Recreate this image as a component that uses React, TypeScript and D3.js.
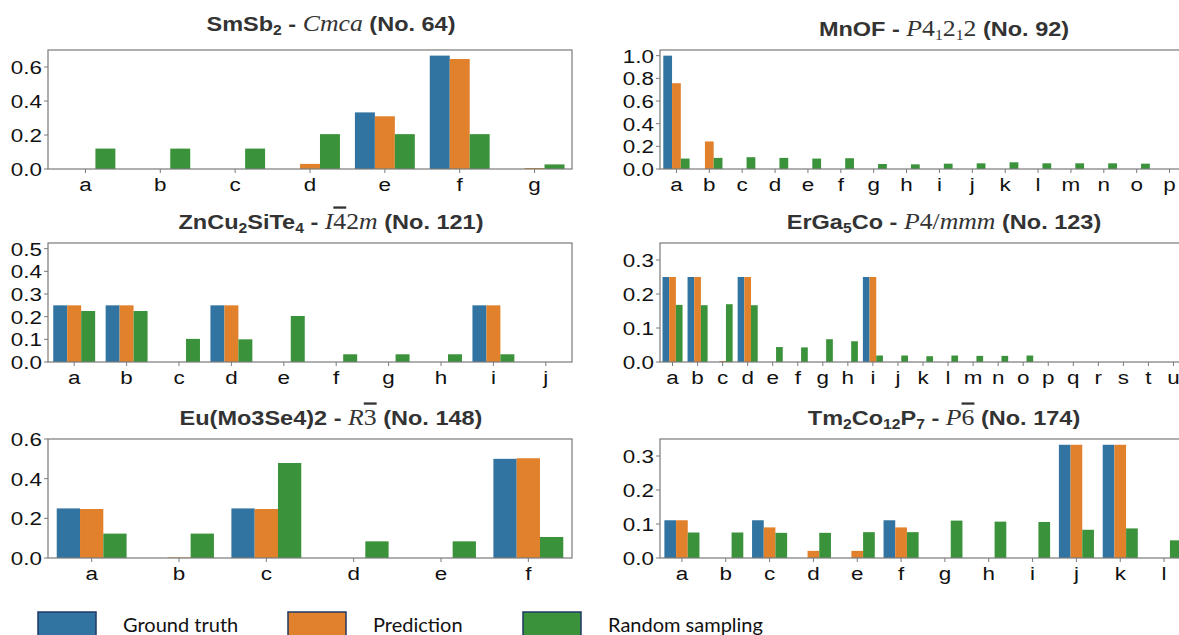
import React from 'react';
import * as d3 from 'd3';

// --- data ---
const smsbCats = ['a', 'b', 'c', 'd', 'e', 'f', 'g'];
const smsbTruth = [0, 0, 0, 0, 0.333, 0.667, 0];
const smsbPred = [0, 0, 0, 0.03, 0.31, 0.647, 0.006];
const smsbRandom = [0.12, 0.12, 0.12, 0.205, 0.205, 0.205, 0.027];
const smsbTicks = [0, 0.2, 0.4, 0.6];

const mnofCats = ['a', 'b', 'c', 'd', 'e', 'f', 'g', 'h', 'i', 'j', 'k', 'l', 'm', 'n', 'o', 'p'];
const mnofTruth = [1, 0, 0, 0, 0, 0, 0, 0, 0, 0, 0, 0, 0, 0, 0, 0];
const mnofPred = [0.757, 0.243, 0, 0, 0, 0, 0, 0, 0, 0, 0, 0, 0, 0, 0, 0];
const mnofRandom = [0.092, 0.098, 0.104, 0.098, 0.092, 0.095, 0.044, 0.041, 0.047, 0.05, 0.059, 0.05, 0.05, 0.05, 0.047, 0];
const mnofTicks = [0, 0.2, 0.4, 0.6, 0.8, 1.0];

const zncuCats = ['a', 'b', 'c', 'd', 'e', 'f', 'g', 'h', 'i', 'j'];
const zncuTruth = [0.25, 0.25, 0, 0.25, 0, 0, 0, 0, 0.25, 0];
const zncuPred = [0.25, 0.25, 0, 0.25, 0, 0, 0, 0, 0.25, 0];
const zncuRandom = [0.225, 0.225, 0.102, 0.1, 0.203, 0.034, 0.034, 0.034, 0.034, 0];
const zncuTicks = [0, 0.1, 0.2, 0.3, 0.4, 0.5];

const ergaCats = ['a', 'b', 'c', 'd', 'e', 'f', 'g', 'h', 'i', 'j', 'k', 'l', 'm', 'n', 'o', 'p', 'q', 'r', 's', 't', 'u'];
const ergaTruth = [0.25, 0.25, 0, 0.25, 0, 0, 0, 0, 0.25, 0, 0, 0, 0, 0, 0, 0, 0, 0, 0, 0, 0];
const ergaPred = [0.25, 0.25, 0.003, 0.25, 0, 0, 0, 0, 0.25, 0, 0, 0, 0, 0, 0, 0, 0, 0, 0, 0, 0];
const ergaRandom = [0.168, 0.167, 0.17, 0.167, 0.044, 0.043, 0.067, 0.061, 0.019, 0.019, 0.017, 0.019, 0.018, 0.018, 0.019, 0, 0, 0, 0, 0, 0];
const ergaTicks = [0, 0.1, 0.2, 0.3];

const euCats = ['a', 'b', 'c', 'd', 'e', 'f'];
const euTruth = [0.25, 0, 0.25, 0, 0, 0.5];
const euPred = [0.247, 0.003, 0.247, 0, 0, 0.503];
const euRandom = [0.123, 0.123, 0.479, 0.084, 0.084, 0.106];
const euTicks = [0, 0.2, 0.4, 0.6];

const tmCats = ['a', 'b', 'c', 'd', 'e', 'f', 'g', 'h', 'i', 'j', 'k', 'l'];
const tmTruth = [0.111, 0, 0.111, 0, 0, 0.111, 0, 0, 0, 0.333, 0.333, 0];
const tmPred = [0.111, 0, 0.09, 0.021, 0.021, 0.09, 0, 0, 0, 0.333, 0.333, 0];
const tmRandom = [0.075, 0.075, 0.074, 0.074, 0.076, 0.076, 0.11, 0.107, 0.106, 0.083, 0.087, 0.052];
const tmTicks = [0, 0.1, 0.2, 0.3];

const legendLabels = ['Ground truth', 'Prediction', 'Random sampling'];
const colors = ['#3274a1', '#e1812c', '#3a923a'];

const SX = 1.18; // the reference is stretched sideways a little
const SANS = '"Liberation Sans", Arial, sans-serif';
const MATH = '"Liberation Serif", "DejaVu Serif", serif';

// title pieces: b = bold sans, bs = bold subscript, mi = math italic, m = math upright, ms = math sub, mo = math overline
const Title = ({ cx, y, segs }) => {
  let prevSub = false;
  return (
    <text transform={`translate(${cx},${y}) scale(1.12,1)`} textAnchor="middle" fill="#333">
      {segs.map(([k, t], i) => {
        const sub = k === 'bs' || k === 'ms';
        const dy = (sub ? 4 : 0) - (prevSub ? 4 : 0);
        prevSub = sub;
        const math = k[0] === 'm';
        return (
          <tspan
            key={i}
            dy={dy}
            fontFamily={math ? MATH : SANS}
            fontWeight={math ? 'normal' : 'bold'}
            fontStyle={k === 'mi' ? 'italic' : 'normal'}
            fontSize={sub ? 14 : math ? 23 : 21}
            style={k === 'mo' ? { textDecoration: 'overline' } : undefined}
          >
            {t}
          </tspan>
        );
      })}
    </text>
  );
};

const Panel = ({ cats, truth, pred, rand, ticks, ymax, x0, x1, y0, y1, title, ty }) => {
  const x = d3.scaleBand().domain(cats).range([x0, x1]).padding(0);
  const y = d3.scaleLinear().domain([0, ymax]).range([y1, y0]);
  const bw = (x.bandwidth() * 0.8) / 3;
  const series = [truth, pred, rand];
  const fmt = d3.format('.1f');
  return (
    <g>
      <Title cx={(x0 + x1) / 2 + 21} y={ty ?? y0 - 14} segs={title} />
      {series.map((vals, s) => (
        <g key={s} fill={colors[s]}>
          {cats.map((c, i) =>
            vals[i] > 0 ? (
              <rect
                key={c}
                x={x(c) + x.bandwidth() / 2 + (s - 1.5) * bw}
                y={y(vals[i])}
                width={bw}
                height={y(0) - y(vals[i])}
              />
            ) : null
          )}
        </g>
      ))}
      <rect x={x0} y={y0} width={x1 - x0} height={y1 - y0} fill="none" stroke="#7a7a7a" strokeWidth={1.2} />
      {ticks.map((t) => (
        <g key={t}>
          <line x1={x0 - 4} x2={x0} y1={y(t)} y2={y(t)} stroke="#7a7a7a" />
          <text
            transform={`translate(${x0 - 6},${y(t) + 7}) scale(${SX},1)`}
            textAnchor="end"
            fontFamily={SANS}
            fontSize={19}
            fill="#111"
          >
            {fmt(t)}
          </text>
        </g>
      ))}
      {cats.map((c) => {
        const cx = x(c) + x.bandwidth() / 2;
        return (
          <g key={c}>
            <line x1={cx} x2={cx} y1={y1} y2={y1 + 4} stroke="#7a7a7a" />
            <text
              transform={`translate(${cx},${y1 + 22}) scale(${SX},1)`}
              textAnchor="middle"
              fontFamily={SANS}
              fontSize={19}
              fill="#111"
            >
              {c}
            </text>
          </g>
        );
      })}
    </g>
  );
};

const L = [48, 572];
const R = [660, 1186];
const rows = [[50, 169], [243, 362], [439, 558]];

export default function App() {
  return (
    <svg width={1179} height={635} style={{ position: 'absolute', left: 0, top: 0, background: '#fff' }}>
      <Panel cats={smsbCats} truth={smsbTruth} pred={smsbPred} rand={smsbRandom} ticks={smsbTicks} ymax={0.7}
        x0={L[0]} x1={L[1]} y0={rows[0][0]} y1={rows[0][1]} ty={31}
        title={[['b', 'SmSb'], ['bs', '2'], ['b', ' - '], ['mi', 'Cmca'], ['b', ' (No. 64)']]} />
      <Panel cats={mnofCats} truth={mnofTruth} pred={mnofPred} rand={mnofRandom} ticks={mnofTicks} ymax={1.05}
        x0={R[0]} x1={R[1]} y0={rows[0][0]} y1={rows[0][1]}
        title={[['b', 'MnOF - '], ['mi', 'P'], ['m', '4'], ['ms', '1'], ['m', '2'], ['ms', '1'], ['m', '2'], ['b', ' (No. 92)']]} />
      <Panel cats={zncuCats} truth={zncuTruth} pred={zncuPred} rand={zncuRandom} ticks={zncuTicks} ymax={0.525}
        x0={L[0]} x1={L[1]} y0={rows[1][0]} y1={rows[1][1]}
        title={[['b', 'ZnCu'], ['bs', '2'], ['b', 'SiTe'], ['bs', '4'], ['b', ' - '], ['mi', 'I'], ['mo', '4'], ['m', '2'], ['mi', 'm'], ['b', ' (No. 121)']]} />
      <Panel cats={ergaCats} truth={ergaTruth} pred={ergaPred} rand={ergaRandom} ticks={ergaTicks} ymax={0.35}
        x0={R[0]} x1={R[1]} y0={rows[1][0]} y1={rows[1][1]}
        title={[['b', 'ErGa'], ['bs', '5'], ['b', 'Co - '], ['mi', 'P'], ['m', '4/'], ['mi', 'mmm'], ['b', ' (No. 123)']]} />
      <Panel cats={euCats} truth={euTruth} pred={euPred} rand={euRandom} ticks={euTicks} ymax={0.6}
        x0={L[0]} x1={L[1]} y0={rows[2][0]} y1={rows[2][1]}
        title={[['b', 'Eu(Mo3Se4)2 - '], ['mi', 'R'], ['mo', '3'], ['b', ' (No. 148)']]} />
      <Panel cats={tmCats} truth={tmTruth} pred={tmPred} rand={tmRandom} ticks={tmTicks} ymax={0.35}
        x0={R[0]} x1={R[1]} y0={rows[2][0]} y1={rows[2][1]}
        title={[['b', 'Tm'], ['bs', '2'], ['b', 'Co'], ['bs', '12'], ['b', 'P'], ['bs', '7'], ['b', ' - '], ['mi', 'P'], ['mo', '6'], ['b', ' (No. 174)']]} />

      {/* legend */}
      {legendLabels.map((lab, i) => {
        const lx = [38, 288, 523][i];
        return (
          <g key={lab}>
            <rect x={lx} y={612} width={58} height={24} fill={colors[i]} stroke="#1f3864" strokeWidth={1.5} />
            <text x={lx + 85} y={632} fontFamily='Lato, "Open Sans", sans-serif' fontSize={20} fill="#111">
              {lab}
            </text>
          </g>
        );
      })}
    </svg>
  );
}
